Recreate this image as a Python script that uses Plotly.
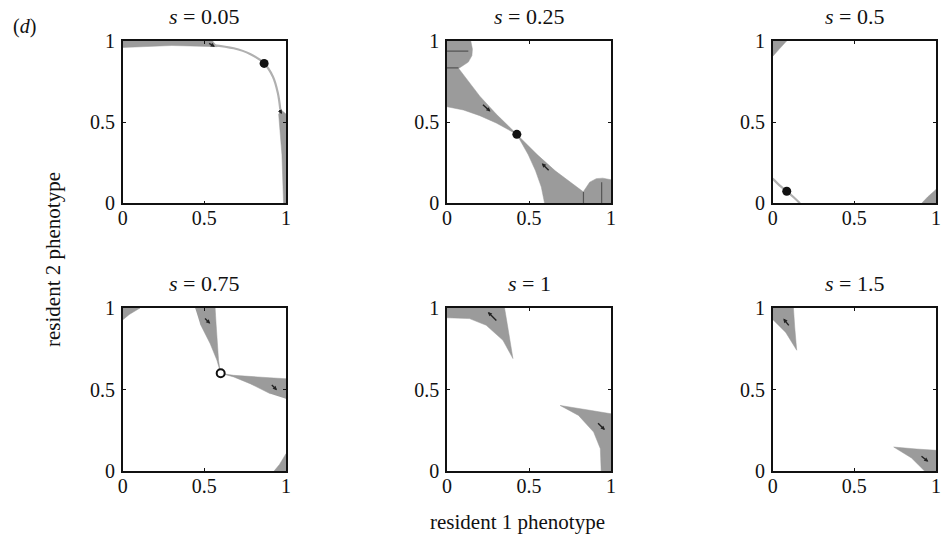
import plotly.graph_objects as go

# ---------------- data (all in data units, 0..1) ----------------
titles = ["<i>s</i> = 0.05", "<i>s</i> = 0.25", "<i>s</i> = 0.5",
          "<i>s</i> = 0.75", "<i>s</i> = 1", "<i>s</i> = 1.5"]
tick_vals = [0, 0.5, 1]
tick_text = ["0", "0.5", "1"]

# panel 1 (s = 0.05)
p1_top_x = [0, 0.55, 0.58, 0.30, 0]
p1_top_y = [1, 1, 0.965, 0.972, 0.96]
p1_right_x = [0.965, 1, 1, 0.985, 0.975, 0.955]
p1_right_y = [0.58, 0.55, 0, 0, 0.30, 0.55]
p1_curve_x = [0.55, 0.68, 0.78, 0.866, 0.92, 0.95, 0.965]
p1_curve_y = [0.975, 0.955, 0.92, 0.862, 0.78, 0.68, 0.58]
p1_dot = (0.866, 0.862)

# panel 2 (s = 0.25)
p2_tl_x = [0, 0.145, 0.155, 0.152, 0.13, 0.071, 0.2, 0.3, 0.426, 0.3, 0.2, 0.1, 0]
p2_tl_y = [1, 1, 0.95, 0.91, 0.87, 0.831, 0.66, 0.55, 0.425, 0.495, 0.54, 0.575, 0.595]
p2_br_x = [1, 1, 0.95, 0.91, 0.87, 0.831, 0.66, 0.55, 0.425, 0.495, 0.54, 0.575, 0.595]
p2_br_y = [0, 0.145, 0.155, 0.152, 0.13, 0.071, 0.2, 0.3, 0.426, 0.3, 0.2, 0.1, 0]
p2_lines_x = [[0, 0.07], [0, 0.13], [0.832, 0.832], [0.943, 0.943]]
p2_lines_y = [[0.835, 0.835], [0.938, 0.938], [0, 0.07], [0, 0.13]]
p2_dot = (0.426, 0.425)

# panel 3 (s = 0.5)
p3_tl_x = [0, 0.085, 0.04, 0]
p3_tl_y = [1, 1, 0.95, 0.905]
p3_br_x = [1, 1, 0.95, 0.912]
p3_br_y = [0, 0.085, 0.04, 0]
p3_curve_x = [0, 0.04, 0.086, 0.13, 0.167]
p3_curve_y = [0.152, 0.112, 0.074, 0.036, 0]
p3_dot = (0.086, 0.074)

# panel 4 (s = 0.75)
p4_tl_x = [0, 0.106, 0.04, 0]
p4_tl_y = [1, 1, 0.96, 0.927]
p4_top_x = [0.444, 0.566, 0.572, 0.58, 0.587, 0.597, 0.577, 0.536, 0.474]
p4_top_y = [1, 1, 0.9, 0.78, 0.68, 0.61, 0.68, 0.78, 0.904]
p4_right_x = [1, 1, 0.9, 0.78, 0.68, 0.61, 0.68, 0.78, 0.904]
p4_right_y = [0.444, 0.566, 0.572, 0.58, 0.587, 0.597, 0.577, 0.536, 0.474]
p4_br_x = [1, 1, 0.96, 0.927]
p4_br_y = [0, 0.106, 0.04, 0]
p4_circle = (0.6, 0.6)

# panel 5 (s = 1)
p5_tl_x = [0, 0.351, 0.371, 0.392, 0.402, 0.341, 0.239, 0.137, 0]
p5_tl_y = [1, 1, 0.88, 0.76, 0.69, 0.802, 0.894, 0.935, 0.94]
p5_br_x = [1, 1, 0.88, 0.76, 0.69, 0.802, 0.894, 0.935, 0.94]
p5_br_y = [0, 0.351, 0.371, 0.392, 0.402, 0.341, 0.239, 0.137, 0]

# panel 6 (s = 1.5)
p6_tl_x = [0, 0.127, 0.135, 0.147, 0.08, 0]
p6_tl_y = [1, 1, 0.88, 0.741, 0.85, 0.93]
p6_br_x = [1, 1, 0.88, 0.741, 0.85, 0.93]
p6_br_y = [0, 0.127, 0.135, 0.147, 0.08, 0]

# arrows: (head_x, head_y, tail_x, tail_y) per panel
arrows = {
    1: [(0.565, 0.965, 0.52, 0.99), (0.975, 0.55, 0.955, 0.585)],
    2: [(0.265, 0.565, 0.21, 0.615), (0.578, 0.246, 0.629, 0.195)],
    3: [],
    4: [(0.536, 0.904, 0.495, 0.945), (0.945, 0.496, 0.904, 0.537)],
    5: [(0.249, 0.976, 0.31, 0.914), (0.963, 0.251, 0.912, 0.302)],
    6: [(0.065, 0.935, 0.106, 0.884), (0.953, 0.057, 0.902, 0.098)],
}

# ---------------- layout geometry ----------------
W, H = 945, 542
col_px = [(122.7, 286.0), (447.0, 611.0), (772.7, 936.0)]
row_px = [(41.0, 203.3), (308.0, 471.0)]
GREY = "#9b9b9b"
FONT = "Liberation Serif"

def px_x(p):
    return p / W

def px_y(p):
    return 1 - p / H

fig = go.Figure()
layout = {}
annotations = []

def axnames(i):
    return ("x" if i == 1 else f"x{i}", "y" if i == 1 else f"y{i}")

for i in range(1, 7):
    r, c = divmod(i - 1, 3)
    x0, x1 = col_px[c]
    y0, y1 = row_px[r]
    xa, ya = axnames(i)
    axstyle = dict(range=[0, 1], showgrid=False, zeroline=False,
                   showline=True, linecolor="#111", linewidth=1.6, mirror="ticks",
                   ticks="inside", ticklen=3, tickcolor="#111",
                   tickvals=tick_vals, ticktext=tick_text, automargin=False,
                   tickfont=dict(family=FONT, size=20, color="#111"),
                   fixedrange=True)
    layout["xaxis" if i == 1 else f"xaxis{i}"] = dict(
        axstyle, domain=[px_x(x0), px_x(x1)], anchor=ya, ticklabelstandoff=-4)
    layout["yaxis" if i == 1 else f"yaxis{i}"] = dict(
        axstyle, domain=[px_y(y1), px_y(y0)], anchor=xa, ticklabelstandoff=2)
    annotations.append(dict(text=titles[i - 1], x=px_x((x0 + x1) / 2),
                            y=px_y(y0 - 25), xref="paper", yref="paper",
                            xanchor="center", yanchor="middle", showarrow=False,
                            font=dict(family=FONT, size=22, color="#111")))
    for hx, hy, tx, ty in arrows[i]:
        annotations.append(dict(x=hx, y=hy, ax=tx, ay=ty, xref=xa, yref=ya,
                                axref=xa, ayref=ya, text="", showarrow=True,
                                arrowhead=2, arrowsize=0.6, arrowwidth=1.4,
                                arrowcolor="#222"))

def poly(i, xs, ys):
    xa, ya = axnames(i)
    fig.add_trace(go.Scatter(x=xs, y=ys, fill="toself", fillcolor=GREY,
                             mode="lines", line=dict(color=GREY, width=0.5),
                             xaxis=xa, yaxis=ya, hoverinfo="skip"))

def curve(i, xs, ys, color="#b0b0b0", width=2.2):
    xa, ya = axnames(i)
    fig.add_trace(go.Scatter(x=xs, y=ys, mode="lines",
                             line=dict(color=color, width=width, shape="spline"),
                             xaxis=xa, yaxis=ya, hoverinfo="skip"))

def dot(i, p, open_=False):
    xa, ya = axnames(i)
    fig.add_trace(go.Scatter(x=[p[0]], y=[p[1]], mode="markers",
                             marker=dict(size=8 if open_ else 9,
                                         color="white" if open_ else "#111",
                                         line=dict(color="#111", width=2 if open_ else 0)),
                             xaxis=xa, yaxis=ya, hoverinfo="skip"))

# panel 1
poly(1, p1_top_x, p1_top_y)
poly(1, p1_right_x, p1_right_y)
curve(1, p1_curve_x, p1_curve_y)
dot(1, p1_dot)
# panel 2
poly(2, p2_tl_x, p2_tl_y)
poly(2, p2_br_x, p2_br_y)
for lx, ly in zip(p2_lines_x, p2_lines_y):
    curve(2, lx, ly, color="#555555", width=1.2)
dot(2, p2_dot)
# panel 3
poly(3, p3_tl_x, p3_tl_y)
poly(3, p3_br_x, p3_br_y)
curve(3, p3_curve_x, p3_curve_y)
dot(3, p3_dot)
# panel 4
poly(4, p4_tl_x, p4_tl_y)
poly(4, p4_top_x, p4_top_y)
poly(4, p4_right_x, p4_right_y)
poly(4, p4_br_x, p4_br_y)
dot(4, p4_circle, open_=True)
# panel 5
poly(5, p5_tl_x, p5_tl_y)
poly(5, p5_br_x, p5_br_y)
# panel 6
poly(6, p6_tl_x, p6_tl_y)
poly(6, p6_br_x, p6_br_y)

annotations += [
    dict(text="resident 1 phenotype", x=px_x(517), y=px_y(522), xref="paper",
         yref="paper", showarrow=False, xanchor="center", yanchor="middle",
         font=dict(family=FONT, size=21, color="#111")),
    dict(text="resident 2 phenotype", x=px_x(53), y=px_y(260), xref="paper",
         yref="paper", showarrow=False, xanchor="center", yanchor="middle",
         textangle=-90, font=dict(family=FONT, size=21, color="#111")),
    dict(text="(<i>d</i>)", x=px_x(24), y=px_y(26), xref="paper", yref="paper",
         showarrow=False, xanchor="center", yanchor="middle",
         font=dict(family=FONT, size=20, color="#111")),
]

fig.update_layout(width=W, height=H, margin=dict(l=0, r=0, t=0, b=0),
                  paper_bgcolor="white", plot_bgcolor="white",
                  showlegend=False, annotations=annotations, **layout)

# remove the page's default body margin and scrollbars so the 945x542 figure
# sits exactly in the window
fig.write_html("out.html", config={"displayModeBar": False}, post_script=(
    "document.body.style.margin='0';"
    "document.body.style.overflow='hidden';"
    "document.documentElement.style.overflow='hidden';"))
